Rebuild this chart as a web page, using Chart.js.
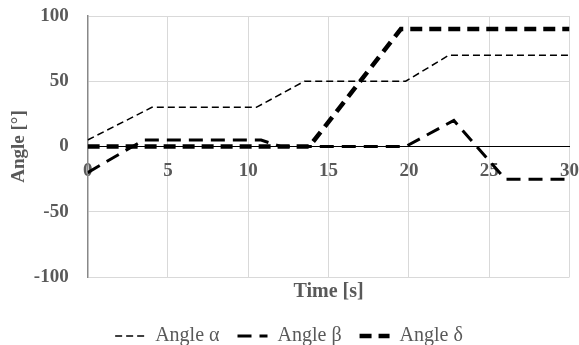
<!DOCTYPE html>
<html>
<head>
<meta charset="utf-8">
<script src="https://cdn.jsdelivr.net/npm/chart.js@4/dist/chart.umd.min.js"></script>
<style>
  html, body { margin: 0; padding: 0; background: #fff; }
  #wrap { width: 579px; height: 345px; }
</style>
</head>
<body>
<div id="wrap"><canvas id="angleChart" width="579" height="345"></canvas></div>
<script>
// values
const alphaTime = [0, 4, 10.5, 13.5, 19.8, 22.5, 30];
const alphaAngle = [5, 30, 30, 50, 50, 70, 70];

const betaTime = [0, 3.5, 10.8, 12, 19.8, 22.8, 26, 30];
const betaAngle = [-20, 5, 5, 0, 0, 20, -25, -25];

const deltaTime = [0, 13.8, 19.5, 30];
const deltaAngle = [0, 0, 90, 90];

const seriesNames = ['Angle α', 'Angle β', 'Angle δ'];
const yTicks = [-100, -50, 0, 50, 100];

const toPoints = (xs, ys) => xs.map((x, i) => ({ x: x, y: ys[i] }));

const grey = '#595959';
const serif = 'Liberation Serif';

const data = {
    datasets: [{
        label: seriesNames[0],
        data: toPoints(alphaTime, alphaAngle),
        borderColor: '#000',
        backgroundColor: '#000',
        borderWidth: 1.5,
        borderDash: [7, 4],
        pointRadius: 0,
        tension: 0
    }, {
        label: seriesNames[1],
        data: toPoints(betaTime, betaAngle),
        borderColor: '#000',
        backgroundColor: '#000',
        borderWidth: 3,
        borderDash: [14, 8],
        pointRadius: 0,
        tension: 0
    }, {
        label: seriesNames[2],
        data: toPoints(deltaTime, deltaAngle),
        borderColor: '#000',
        backgroundColor: '#000',
        borderWidth: 4.5,
        borderDash: [12, 7],
        pointRadius: 0,
        tension: 0
    }]
};

// legend samples: dashed lines like the series
const legendLabels = (chart) => {
    const items = Chart.defaults.plugins.legend.labels.generateLabels(chart);
    return items.map((item, i) => {
        const ds = chart.data.datasets[i];
        item.lineDash = ds.borderDash;
        item.lineWidth = ds.borderWidth;
        item.strokeStyle = '#000';
        item.pointStyle = 'line';
        return item;
    });
};

const config = {
    type: 'line',
    data: data,
    options: {
        responsive: false,
        animation: false,
        layout: { padding: { top: 16, right: 1, left: 0, bottom: -11 } },
        scales: {
            x: {
                type: 'linear',
                position: { y: 0 },
                min: 0,
                max: 30,
                grid: { color: '#d9d9d9', drawTicks: true, tickLength: 13, tickColor: 'rgba(0,0,0,0)' },
                border: { color: '#000', width: 1 },
                ticks: {
                    stepSize: 5,
                    padding: 0,
                    color: grey,
                    font: { family: serif, size: 19, weight: 'bold' }
                }
            },
            y: {
                min: -100,
                max: 100,
                afterBuildTicks: (axis) => { axis.ticks = yTicks.map(v => ({ value: v })); },
                grid: { color: '#d9d9d9', drawTicks: true, tickLength: 19, tickColor: 'rgba(0,0,0,0)' },
                border: { color: '#888', width: 1.5 },
                ticks: {
                    padding: 0,
                    color: grey,
                    font: { family: serif, size: 19, weight: 'bold' }
                },
                title: {
                    display: true,
                    text: 'Angle [°]',
                    color: grey,
                    padding: { top: 8, bottom: 3 },
                    font: { family: serif, size: 19, weight: 'bold' }
                }
            }
        },
        plugins: {
            tooltip: { enabled: false },
            title: {
                display: true,
                position: 'bottom',
                fullSize: false,
                weight: 500,
                text: 'Time [s]',
                color: grey,
                padding: { top: 3, bottom: 4 },
                font: { family: serif, size: 20, weight: 'bold' }
            },
            legend: {
                position: 'bottom',
                labels: {
                    usePointStyle: true,
                    pointStyle: 'line',
                    pointStyleWidth: 30,
                    boxHeight: 10,
                    padding: 18,
                    color: grey,
                    font: { family: serif, size: 20 },
                    generateLabels: legendLabels
                }
            }
        }
    }
};

const myChart = new Chart(document.getElementById('angleChart'), config);
</script>
</body>
</html>
